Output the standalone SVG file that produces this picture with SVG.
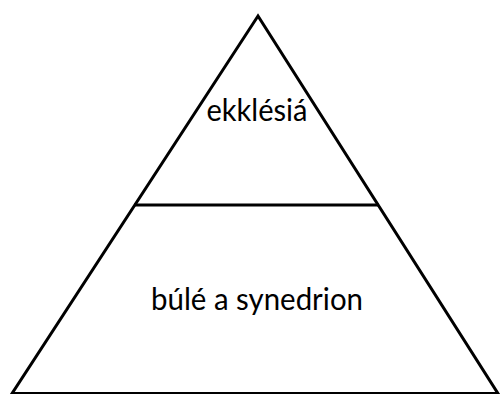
<svg xmlns="http://www.w3.org/2000/svg" width="501" height="394" viewBox="0 0 501 394">
<style>
.ln{fill:none;stroke:#000;stroke-width:3}
.lbl{font-family:Lato,"Open Sans","Liberation Sans",sans-serif;font-size:30px;fill:#000;text-anchor:middle}
</style>
<rect width="501" height="394" fill="#fff"/>
<g id="connectors">
<polygon class="ln" points="258,16 12,393.5 498,393.5"/>
<line class="ln" x1="134" y1="205" x2="379" y2="205"/>
</g>
<g id="node-ekklesia">
<text class="lbl" x="257" y="121" textLength="101" lengthAdjust="spacingAndGlyphs">ekklésiá</text>
</g>
<g id="node-bule">
<text class="lbl" x="257" y="310" textLength="212" lengthAdjust="spacingAndGlyphs">búlé a synedrion</text>
</g>
</svg>
